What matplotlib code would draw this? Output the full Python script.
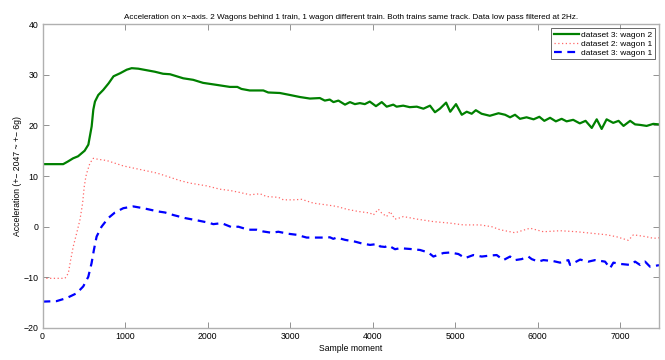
import matplotlib
matplotlib.use("Agg")
import matplotlib.pyplot as plt

plt.rcParams['font.family'] = ['Liberation Sans', 'DejaVu Sans']
plt.rcParams['font.size'] = 6

# ── values (sample moment, acceleration) ──
wagon2_d3_x = [0, 250, 310, 370, 430, 510, 555, 595, 615, 635, 675, 735, 800, 860,
               940, 1020, 1080, 1160, 1260, 1360, 1460, 1545, 1705, 1825, 1945,
               2110, 2270, 2360, 2410, 2510, 2675, 2735, 2875, 3000, 3120, 3240,
               3360, 3420, 3480, 3525, 3585, 3665, 3725, 3785, 3845, 3905, 3965,
               4040, 4110, 4170, 4250, 4290, 4370, 4450, 4535, 4615, 4695, 4755,
               4815, 4890, 4940, 5010, 5080, 5140, 5200, 5250, 5320, 5420, 5525,
               5605, 5665, 5725, 5785, 5865, 5950, 6020, 6080, 6150, 6220, 6290,
               6350, 6430, 6510, 6580, 6655, 6715, 6775, 6835, 6915, 6980, 7040,
               7120, 7180, 7240, 7320, 7400, 7470]
wagon2_d3_y = [12.35, 12.35, 12.9, 13.5, 13.9, 15.0, 16.2, 19.8, 23.1, 24.7, 26.0,
               27.0, 28.3, 29.7, 30.3, 31.0, 31.3, 31.2, 30.9, 30.6, 30.2, 30.1,
               29.3, 29.0, 28.4, 28.0, 27.6, 27.6, 27.2, 26.9, 26.9, 26.5, 26.4,
               26.0, 25.6, 25.3, 25.4, 24.9, 25.1, 24.6, 24.9, 24.1, 24.6, 24.2,
               24.4, 24.2, 24.7, 23.8, 24.6, 23.7, 24.1, 23.7, 23.9, 23.6, 23.7,
               23.3, 23.9, 22.6, 23.3, 24.5, 22.7, 24.2, 22.1, 22.7, 22.3, 23.0,
               22.3, 21.9, 22.4, 22.1, 21.6, 22.1, 21.3, 21.6, 21.2, 21.7, 20.9,
               21.5, 20.8, 21.3, 20.8, 21.1, 20.4, 20.9, 19.5, 21.2, 19.3, 21.2,
               20.5, 20.9, 19.9, 20.9, 20.2, 20.1, 19.9, 20.3, 20.2]

wagon1_d2_x = [0, 272, 312, 340, 372, 413, 453, 485, 505, 525, 534, 574, 615, 675,
               776, 978, 1180, 1382, 1422, 1666, 1787, 1988, 2150, 2271, 2392,
               2514, 2635, 2715, 2857, 2918, 3039, 3140, 3281, 3442, 3564, 3685,
               3826, 3968, 4008, 4069, 4109, 4170, 4210, 4271, 4311, 4372, 4534,
               4736, 4938, 5100, 5302, 5442, 5543, 5725, 5907, 6069, 6271, 6473,
               6655, 6836, 6957, 7099, 7160, 7321, 7401, 7470]
wagon1_d2_y = [-10.2, -10.2, -9.2, -6.6, -3.9, -1.3, 1.35, 4.6, 7.9, 9.9, 10.5,
               12.55, 13.5, 13.3, 13.07, 12.0, 11.3, 10.6, 10.4, 9.1, 8.6, 8.06,
               7.4, 7.15, 6.75, 6.3, 6.5, 5.95, 5.8, 5.3, 5.3, 5.4, 4.65, 4.3, 4.0,
               3.45, 3.0, 2.7, 2.3, 3.45, 2.7, 2.0, 3.0, 1.5, 1.65, 2.0, 1.5, 1.0,
               0.7, 0.35, 0.35, 0.0, -0.6, -1.2, -0.3, -1.0, -0.8, -1.0, -1.3,
               -1.6, -2.0, -2.7, -1.6, -2.0, -2.3, -2.2]

wagon1_d3_x = [0, 170, 291, 413, 493, 554, 594, 622, 655, 715, 796, 877, 978, 1099,
               1220, 1402, 1484, 1585, 1726, 1888, 2009, 2069, 2170, 2291, 2372,
               2493, 2594, 2675, 2776, 2857, 2978, 3079, 3200, 3382, 3483, 3523,
               3564, 3665, 3786, 3866, 3968, 4069, 4089, 4150, 4190, 4271, 4332,
               4453, 4574, 4675, 4736, 4857, 4938, 5039, 5120, 5221, 5322, 5423,
               5503, 5584, 5665, 5725, 5806, 5887, 5927, 6008, 6069, 6190, 6271,
               6372, 6392, 6514, 6614, 6695, 6816, 6877, 6917, 6998, 7119, 7180,
               7240, 7301, 7361, 7401, 7470]
wagon1_d3_y = [-14.8, -14.7, -14.1, -13.15, -11.8, -9.9, -7.2, -4.6, -1.95, 0.0,
               1.7, 2.8, 3.65, 4.0, 3.65, 3.0, 2.8, 2.3, 1.7, 1.2, 0.8, 0.5, 0.7,
               -0.1, 0.0, -0.6, -0.6, -0.95, -1.2, -1.0, -1.4, -1.6, -2.15, -2.15,
               -2.1, -2.4, -2.15, -2.6, -2.95, -3.3, -3.6, -3.4, -3.9, -4.0, -3.7,
               -4.45, -4.25, -4.4, -4.6, -5.1, -5.9, -5.2, -5.1, -5.4, -6.2, -5.6,
               -5.9, -5.7, -5.6, -6.6, -5.9, -6.6, -6.4, -5.9, -6.4, -6.9, -6.6,
               -6.8, -7.1, -6.6, -7.55, -6.5, -6.9, -6.6, -6.9, -8.2, -7.1, -7.35,
               -7.55, -6.9, -7.55, -6.9, -7.9, -7.8, -7.6]

series_labels = ["dataset 3: wagon 2", "dataset 2: wagon 1", "dataset 3: wagon 1"]

fig = plt.figure(figsize=(6.65, 3.6), dpi=100)
ax = fig.add_axes([0.064, 0.089, 0.927, 0.844])

ax.plot(wagon2_d3_x, wagon2_d3_y, color='#008000', lw=1.6, label=series_labels[0])
ax.plot(wagon1_d2_x, wagon1_d2_y, color='#ff0000', lw=0.9, ls=(0, (1, 2)),
        alpha=0.6, label=series_labels[1])
ax.plot(wagon1_d3_x, wagon1_d3_y, color='#0000ff', lw=1.6, ls=(0, (3.5, 2.5)),
        label=series_labels[2])

ax.set_xlim(0, 7470)
ax.set_ylim(-20, 40)
ax.set_xticks(range(0, 7001, 1000))
ax.set_yticks(range(-20, 41, 10))

for sp in ax.spines.values():
    sp.set_color('#b0b0b0')
    sp.set_linewidth(1.0)
ax.tick_params(direction='in', length=4, width=0.6, color='#808080',
               top=True, right=True, labelsize=6.3, pad=3)

ax.set_title("Acceleration on x\u2212axis. 2 Wagons behind 1 train, 1 wagon different train. "
             "Both trains same track. Data low pass filtered at 2Hz.", fontsize=5.9, pad=4)
ax.set_xlabel("Sample moment", fontsize=6.2, labelpad=2)
ax.set_ylabel("Acceleration (+\u2212 2047 ~ +\u2212 6g)", fontsize=6.2, labelpad=1)

leg = ax.legend(loc='upper right', fontsize=6, frameon=True, fancybox=False,
                edgecolor='#404040', handlelength=3.0, handletextpad=0.3,
                borderpad=0.3, labelspacing=0.15, borderaxespad=0.5)
leg.get_frame().set_linewidth(0.7)

fig.savefig("out.png", dpi=100)
